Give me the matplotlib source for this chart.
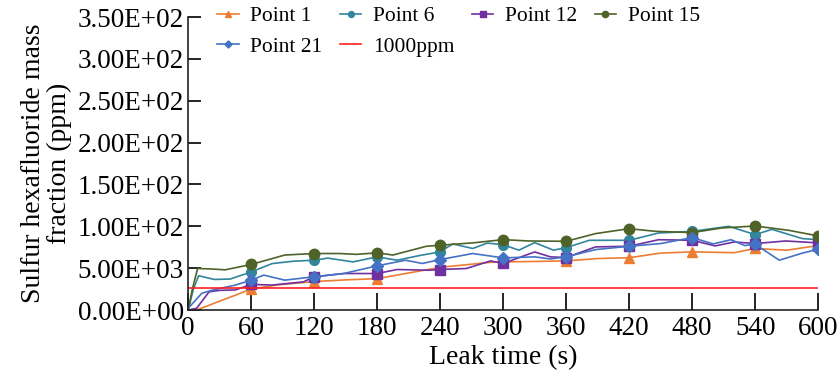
import matplotlib
matplotlib.use("Agg")
import matplotlib.pyplot as plt

plt.rcParams['font.family'] = ['Liberation Serif', 'DejaVu Serif']

# values (ppm), markers every 60 s
t1 = [0, 8, 60, 85, 120, 150, 180, 240, 288, 300, 330, 360, 390, 420, 450, 480, 520, 540, 570, 600]
v1 = [0, 0, 25, 30, 34, 36, 37.5, 51, 57, 57.5, 58, 58.7, 61.5, 62.5, 68, 69.5, 68.5, 73.5, 71.5, 77]

t6 = [0, 5, 10, 25, 40, 60, 80, 100, 120, 133, 157, 180, 199, 220, 240, 252, 271, 285, 300, 315,
      330, 348, 360, 382, 420, 448, 480, 515, 540, 556, 585, 600]
v6 = [0, 25, 41, 36.5, 37, 45.5, 55.5, 58.3, 59.5, 62, 57.5, 63.5, 59.5, 65, 69.5, 79, 73.5, 80, 78, 71.5,
      80.5, 71.5, 74.5, 83.3, 83.3, 92, 94, 100, 90, 96.4, 85.3, 84]

t12 = [0, 8, 20, 30, 45, 60, 80, 110, 120, 148, 180, 199, 230, 240, 265, 288, 300, 330, 345, 360,
       388, 420, 448, 480, 502, 520, 540, 569, 600]
v12 = [0, 2, 21.8, 23.5, 24, 30.6, 29.8, 33.7, 39.7, 43.6, 43.6, 48.4, 47.5, 48.4, 49.6, 58.7, 55.6, 69.4, 63.5, 62.7,
       75.4, 76.2, 84, 83.3, 76.6, 81.3, 79.4, 82.5, 80.2]

t15 = [0, 4, 9, 23, 35, 60, 92, 120, 144, 160, 180, 195, 227, 240, 271, 300, 324, 360, 388, 420,
       445, 480, 508, 540, 572, 600]
v15 = [0, 25, 49.6, 49, 48, 54.4, 65.7, 67.5, 67.5, 66.5, 68.3, 65.7, 76.2, 77.4, 80.2, 84.1, 82.5, 82.1, 91.3, 97.2,
       94, 92.5, 98, 100.4, 95.2, 88.5]

t21 = [0, 13, 23, 45, 60, 72, 92, 120, 148, 180, 207, 223, 240, 271, 300, 330, 345, 360, 388, 420,
       450, 480, 500, 517, 530, 540, 563, 585, 600]
v21 = [2, 20, 23.8, 29.8, 35.7, 41.7, 35.7, 39.7, 43.6, 52.8, 59.5, 55.6, 60.3, 67.5, 62.3, 63.5, 61, 63.5, 72.2, 76.2,
       79.4, 86.5, 79, 84, 77, 78.6, 59.5, 68, 72.6]

limit_t = [0, 600]
limit_v = [26.5, 26.5]

x_ticks = [0, 60, 120, 180, 240, 300, 360, 420, 480, 540, 600]
y_ticks = [0, 50, 100, 150, 200, 250, 300, 350]
y_tick_labels = ['0.00E+00', '5.00E+03', '1.00E+02', '1.50E+02', '2.00E+02', '2.50E+02', '3.00E+02', '3.50E+02']


def marks(ts):
    return [i for i, t in enumerate(ts) if t > 0 and t % 60 == 0]


fig = plt.figure(figsize=(8.4, 3.79), dpi=100)
ax = fig.add_axes([0.224, 0.182, 0.750, 0.773])

h1, = ax.plot(t1, v1, color='#ED7D31', lw=1.2, marker='^', ms=7, markevery=marks(t1), label='Point 1')
h6, = ax.plot(t6, v6, color='#31859C', lw=1.2, marker='o', ms=7, markevery=marks(t6), label='Point 6')
h12, = ax.plot(t12, v12, color='#7030A0', lw=1.2, marker='s', ms=7, markevery=marks(t12), label='Point 12')
h15, = ax.plot(t15, v15, color='#4F6228', lw=1.2, marker='o', ms=7.5, markevery=marks(t15), label='Point 15')
h21, = ax.plot(t21, v21, color='#4472C4', lw=1.2, marker='D', ms=6, markevery=marks(t21), label='Point 21')
hr, = ax.plot(limit_t, limit_v, color='#FF2020', lw=1.2, label='1000ppm')

ax.set_xlim(0, 600)
ax.set_ylim(0, 350)
ax.set_xticks(x_ticks)
ax.set_yticks(y_ticks)
ax.set_yticklabels(y_tick_labels)
ax.tick_params(axis='x', direction='in', length=12, width=1.2, labelsize=19.5, pad=4)
ax.tick_params(axis='y', direction='in', length=9, width=1.2, labelsize=19.5, pad=3)
ax.spines['top'].set_visible(False)
ax.spines['right'].set_visible(False)
for s in ['left', 'bottom']:
    ax.spines[s].set_linewidth(1.2)
    ax.spines[s].set_color('#222222')

ax.set_xlabel('Leak time (s)', fontsize=20, labelpad=3)
ax.set_ylabel('Sulfur hexafluoride mass\nfraction (ppm)', fontsize=20, labelpad=4, linespacing=1.05)

handles = [h1, h21, h6, hr, h12, h15]
fig.legend(handles=handles, labels=[h.get_label() for h in handles], ncol=4, frameon=False,
           fontsize=15.5, loc='upper left', bbox_to_anchor=(0.243, 1.018), borderpad=0.1,
           handlelength=1.0, handletextpad=0.55, columnspacing=0.8, labelspacing=0.5,
           markerscale=0.6)

fig.savefig('out.png', dpi=100)
